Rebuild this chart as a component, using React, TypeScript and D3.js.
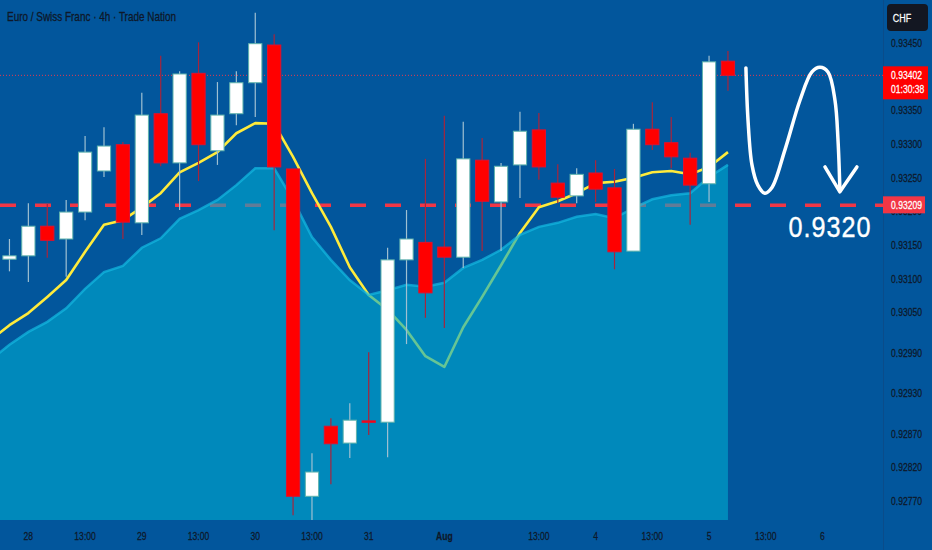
import * as d3 from "d3";
import { useEffect, useRef } from "react";

// EUR/CHF 4h candles
const candleOpen = [
  0.93129, 0.93134, 0.93178, 0.93159, 0.93199, 0.9326, 0.93299, 0.93183, 0.93345, 0.93272,
  0.93405, 0.9329, 0.93345, 0.93391, 0.93447, 0.93263, 0.92777, 0.92881, 0.92856, 0.92889,
  0.92887, 0.93128, 0.93154, 0.93147, 0.93132, 0.93276, 0.93214, 0.93269, 0.93321, 0.93242,
  0.93223, 0.93257, 0.93235, 0.93141, 0.93322, 0.93302, 0.93279, 0.93241, 0.93423,
];
const candleHigh = [
  0.93159, 0.93212, 0.93211, 0.93217, 0.93312, 0.93325, 0.93303, 0.93376, 0.93431, 0.93408,
  0.93451, 0.93392, 0.93408, 0.93495, 0.93463, 0.93263, 0.92841, 0.92893, 0.92915, 0.92991,
  0.93146, 0.93202, 0.93278, 0.93342, 0.93333, 0.93309, 0.93272, 0.93348, 0.93346, 0.9327,
  0.93264, 0.93276, 0.93263, 0.9333, 0.93362, 0.9334, 0.93287, 0.93431, 0.93438,
];
const candleLow = [
  0.93111, 0.93095, 0.93131, 0.93103, 0.93187, 0.93251, 0.93159, 0.93165, 0.93267, 0.93202,
  0.93245, 0.93269, 0.93328, 0.9334, 0.93172, 0.92749, 0.92738, 0.92795, 0.92834, 0.92868,
  0.92835, 0.93003, 0.93042, 0.93027, 0.93116, 0.93141, 0.93141, 0.9322, 0.93247, 0.93212,
  0.93212, 0.93214, 0.93114, 0.93141, 0.93291, 0.93264, 0.9318, 0.93214, 0.93379,
];
const candleClose = [
  0.93134, 0.93178, 0.93157, 0.93199, 0.93288, 0.93297, 0.93184, 0.93343, 0.93272, 0.93404,
  0.93299, 0.93343, 0.93391, 0.93449, 0.93266, 0.92777, 0.92813, 0.92855, 0.9289, 0.92887,
  0.93128, 0.93159, 0.93079, 0.93132, 0.93278, 0.93215, 0.93267, 0.93319, 0.93266, 0.93221,
  0.93255, 0.93233, 0.9314, 0.93322, 0.93299, 0.93281, 0.93239, 0.93422, 0.93402,
];

// moving averages start one bar before the first visible candle (index -1)
const fastMA = [
  0.93009, 0.93031, 0.93049, 0.93073, 0.93098, 0.9314, 0.9318, 0.93187, 0.93206, 0.93227,
  0.93258, 0.93272, 0.93288, 0.93316, 0.93331, 0.9333, 0.93281, 0.93227, 0.93177, 0.93117,
  0.93076, 0.93054, 0.93024, 0.92985, 0.92969, 0.93028, 0.93073, 0.9312, 0.93168, 0.93206,
  0.93215, 0.93227, 0.93242, 0.93244, 0.9325, 0.93258, 0.9326, 0.93255, 0.93266, 0.93288,
];
const slowMA = [
  0.92979, 0.93002, 0.93021, 0.93036, 0.93056, 0.93085, 0.9311, 0.93119, 0.93146, 0.9316,
  0.93189, 0.93202, 0.93217, 0.93239, 0.93264, 0.93264, 0.93217, 0.93162, 0.93128, 0.93098,
  0.93076, 0.93083, 0.93091, 0.93088, 0.93094, 0.93116, 0.93128, 0.93143, 0.93165, 0.93177,
  0.93183, 0.93192, 0.93196, 0.9319, 0.93205, 0.93218, 0.93224, 0.93227, 0.93251, 0.93269,
];

const priceTicks = [
  0.9345, 0.934, 0.9335, 0.933, 0.9325, 0.932, 0.9315, 0.931, 0.9305, 0.9299, 0.9293, 0.9287,
  0.9282, 0.9277,
];
const timeTickIndex = [1, 4, 7, 10, 13, 16, 19, 23, 28, 31, 34, 37, 40, 43];
const timeTickLabel = ["28", "13:00", "29", "13:00", "30", "13:00", "31", "Aug", "13:00", "4", "13:00", "5", "13:00", "6"];

const supportLevel = 0.93209;
const targetLabel = "0.9320";
const countdown = "01:30:38";
const title = "Euro / Swiss Franc · 4h · Trade Nation";

// hand drawn arrow, as [bar index, price]
const arrowStroke: [number, number][] = [
  [38.95, 0.93413], [39.06, 0.93336], [39.27, 0.93269], [39.58, 0.93239], [39.95, 0.93227],
  [40.32, 0.93235], [41.01, 0.93291], [41.81, 0.93365], [42.44, 0.93407], [42.86, 0.93414],
  [43.29, 0.93407], [43.66, 0.93365], [43.82, 0.93306], [43.92, 0.93232],
];
const arrowHead: [number, number][] = [[43.13, 0.93266], [43.92, 0.93229], [44.82, 0.93266]];

const W = 932;
const H = 550;
const plotRight = 883;
const plotBottom = 520;

const BG = "#02569c";
const FONT = "'Liberation Sans', Arial, sans-serif";
const TEXT_DARK = "#0e1829";
const SQUEEZE = 0.78; // the screenshot's font is condensed

type Sel = d3.Selection<any, any, any, any>;

// condensed text: squeeze horizontally around the anchor point
const label = (g: Sel, x: number, y: number, str: string, size: number, fill: string, anchor = "start", sx = SQUEEZE) =>
  g
    .append("text")
    .attr("transform", `translate(${x},${y}) scale(${sx},1)`)
    .attr("text-anchor", anchor)
    .attr("fill", fill)
    .attr("stroke", fill)
    .attr("stroke-width", 0.25)
    .attr("font-family", FONT)
    .attr("font-size", size)
    .text(str);

const App = () => {
  const ref = useRef<SVGSVGElement>(null);

  useEffect(() => {
    document.body.style.margin = "0";
    const svg = d3.select(ref.current);
    svg.selectAll("*").remove();

    const x = d3.scaleLinear().domain([-0.5, 46.2]).range([0, plotRight]);
    const y = d3.scaleLinear().domain([0.9345, 0.9277]).range([43, 501]);

    svg.append("rect").attr("width", W).attr("height", H).attr("fill", BG);

    svg
      .append("defs")
      .append("clipPath")
      .attr("id", "plot-clip")
      .append("rect")
      .attr("width", plotRight)
      .attr("height", plotBottom);

    const plot = svg.append("g").attr("clip-path", "url(#plot-clip)");

    // last price dotted line
    const last = candleClose[candleClose.length - 1];
    plot
      .append("line")
      .attr("x1", 0)
      .attr("x2", plotRight)
      .attr("y1", y(last))
      .attr("y2", y(last))
      .attr("stroke", "#e8394f")
      .attr("stroke-width", 1)
      .attr("stroke-dasharray", "1 2");

    // support level
    plot
      .append("line")
      .attr("x1", 0)
      .attr("x2", plotRight)
      .attr("y1", y(supportLevel))
      .attr("y2", y(supportLevel))
      .attr("stroke", "#f23645")
      .attr("stroke-width", 3.5)
      .attr("stroke-dasharray", "16 19");

    const maIdx = fastMA.map((_, i) => i - 1);

    // fast MA line (sits under the area, so it turns green inside it)
    plot
      .append("path")
      .datum(maIdx)
      .attr("fill", "none")
      .attr("stroke", "#ffeb3b")
      .attr("stroke-width", 2.6)
      .attr("stroke-linejoin", "round")
      .attr(
        "d",
        d3
          .line<number>()
          .x((i) => x(i))
          .y((i) => y(fastMA[i + 1]))
      );

    // slow MA area
    plot
      .append("path")
      .datum(maIdx)
      .attr("fill", "rgba(0, 172, 208, 0.6)")
      .attr(
        "d",
        d3
          .area<number>()
          .x((i) => x(i))
          .y0(plotBottom)
          .y1((i) => y(slowMA[i + 1]))
      );
    plot
      .append("path")
      .datum(maIdx)
      .attr("fill", "none")
      .attr("stroke", "rgba(20, 185, 225, 0.7)")
      .attr("stroke-width", 2.5)
      .attr(
        "d",
        d3
          .line<number>()
          .x((i) => x(i))
          .y((i) => y(slowMA[i + 1]))
      );

    // candles
    const bw = (x(1) - x(0)) * 0.7;
    const candles = plot
      .selectAll(".candle")
      .data(candleOpen.map((_, i) => i))
      .enter()
      .append("g")
      .attr("class", "candle");

    candles
      .append("line")
      .attr("x1", (i) => x(i))
      .attr("x2", (i) => x(i))
      .attr("y1", (i) => y(candleHigh[i]))
      .attr("y2", (i) => y(candleLow[i]))
      .attr("stroke", (i) => (candleClose[i] >= candleOpen[i] ? "#9fc0d2" : "#a8243c"))
      .attr("stroke-width", 1.2);

    candles
      .append("rect")
      .attr("x", (i) => x(i) - bw / 2)
      .attr("width", bw)
      .attr("y", (i) => y(Math.max(candleOpen[i], candleClose[i])))
      .attr("height", (i) => Math.max(1.5, Math.abs(y(candleOpen[i]) - y(candleClose[i]))))
      .attr("fill", (i) => (candleClose[i] >= candleOpen[i] ? "#ffffff" : "#ff0000"))
      .attr("stroke", (i) => (candleClose[i] >= candleOpen[i] ? "#5fb3ad" : "#e0102e"))
      .attr("stroke-width", 1);

    // drawn annotation
    const ann = d3
      .line<[number, number]>()
      .x((d) => x(d[0]))
      .y((d) => y(d[1]));
    svg
      .append("path")
      .attr("d", ann.curve(d3.curveCatmullRom)(arrowStroke))
      .attr("fill", "none")
      .attr("stroke", "#ffffff")
      .attr("stroke-width", 3.5)
      .attr("stroke-linecap", "round");
    svg
      .append("path")
      .attr("d", ann.curve(d3.curveLinear)(arrowHead))
      .attr("fill", "none")
      .attr("stroke", "#ffffff")
      .attr("stroke-width", 3.5)
      .attr("stroke-linecap", "round")
      .attr("stroke-linejoin", "round");
    label(svg, x(41.2), y(0.932) + 26, targetLabel, 30, "#ffffff", "start", 0.84)
      .attr("letter-spacing", 1.2)
      .attr("stroke-width", 0.4);

    // title
    svg
      .append("text")
      .attr("x", 7)
      .attr("y", 21)
      .attr("fill", TEXT_DARK)
      .attr("stroke", TEXT_DARK)
      .attr("stroke-width", 0.3)
      .attr("font-family", FONT)
      .attr("font-size", 13)
      .attr("textLength", 169)
      .attr("lengthAdjust", "spacingAndGlyphs")
      .text(title);

    // axis separator
    svg
      .append("line")
      .attr("x1", plotRight + 0.5)
      .attr("x2", plotRight + 0.5)
      .attr("y1", 0)
      .attr("y2", H)
      .attr("stroke", "#0a4c8a")
      .attr("stroke-width", 1);

    // price axis
    const yAxis = svg.append("g");
    priceTicks.forEach((d) => label(yAxis, 891, y(d) + 4, d.toFixed(5), 11, TEXT_DARK));

    // time axis
    const xAxis = svg.append("g");
    timeTickIndex.forEach((i, k) => {
      const t = label(xAxis, x(i), 540, timeTickLabel[k], 11, TEXT_DARK, "middle");
      if (timeTickLabel[k] === "Aug") t.attr("font-weight", "bold");
    });

    // support label
    svg
      .append("rect")
      .attr("x", plotRight)
      .attr("y", y(supportLevel) - 9)
      .attr("width", 42)
      .attr("height", 17)
      .attr("fill", "#f23645");
    label(svg, 891, y(supportLevel) + 4, supportLevel.toFixed(5), 11, "#ffffff");

    // last price label with countdown
    svg
      .append("rect")
      .attr("x", plotRight)
      .attr("y", y(last) - 9)
      .attr("width", 45)
      .attr("height", 33)
      .attr("fill", "#ff0000");
    label(svg, 891, y(last) + 4, last.toFixed(5), 11, "#ffffff");
    label(svg, 891, y(last) + 18, countdown, 11, "#ffffff");

    // currency box
    svg
      .append("rect")
      .attr("x", 887)
      .attr("y", 4)
      .attr("width", 41)
      .attr("height", 27)
      .attr("rx", 4)
      .attr("fill", "#131722");
    label(svg, 902, 21.5, "CHF", 11.5, "#ffffff", "middle");
  }, []);

  return <svg ref={ref} width={W} height={H} style={{ display: "block" }} />;
};

export default App;
